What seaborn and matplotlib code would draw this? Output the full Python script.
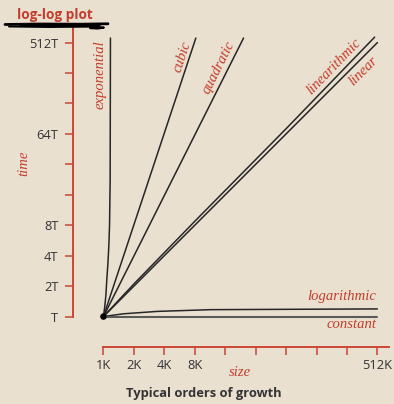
import numpy as np
import pandas as pd
import matplotlib
matplotlib.use("Agg")
import matplotlib.pyplot as plt
from matplotlib.lines import Line2D
import seaborn as sns

# problem size in thousands (K) and running time in units of T
exp_size = [1.0, 1.028, 1.057, 1.079, 1.110, 1.133, 1.149, 1.165, 1.173]
exp_time = [1.0, 1.23, 1.62, 2.3, 3.48, 5.28, 8.0, 22.6, 568.0]

cubic_size = [1.0, 8.2]
cubic_time = [1.0, 568.0]

quad_size = [1.0, 24.3]
quad_time = [1.0, 568.0]

nlogn_size = [1.0, 2.0, 8.0, 64.0, 481.0]
nlogn_time = [1.0, 2.1, 8.75, 72.0, 580.0]

linear_size = [1.0, 512.0]
linear_time = [1.0, 512.0]

log_size = [1.0, 1.58, 3.43, 11.5, 512.0]
log_time = [1.0, 1.065, 1.125, 1.17, 1.19]

const_size = [1.0, 512.0]
const_time = [1.0, 1.0]

x_ticks = [1, 2, 4, 8, 16, 32, 64, 128, 256, 512]
x_tick_labels = ["1K", "2K", "4K", "8K", "", "", "", "", "", "512K"]
y_ticks = [1, 2, 4, 8, 16, 32, 64, 128, 256, 512]
y_tick_labels = ["T", "2T", "4T", "8T", "", "", "64T", "", "", "512T"]

BG = "#e9e0d0"
RED = "#c43c2c"
AXRED = "#cc4634"
INK = "#262626"
TXT = "#333333"

sns.set_theme(style="white")
plt.rcParams["font.family"] = ["Open Sans", "DejaVu Sans"]

fig = plt.figure(figsize=(3.94, 4.04), dpi=100, facecolor=BG)
ax = fig.add_axes([0.1853, 0.1411, 0.8015, 0.7911])
ax.set_facecolor(BG)

series = [
    (exp_size, exp_time, INK, 1.1),
    (cubic_size, cubic_time, INK, 1.1),
    (quad_size, quad_time, INK, 1.1),
    (nlogn_size, nlogn_time, INK, 1.1),
    (linear_size, linear_time, INK, 1.1),
    (log_size, log_time, INK, 1.1),
    (const_size, const_time, "#5a5a5a", 1.5),
]
for xs, ys, col, lw in series:
    df = pd.DataFrame({"size": xs, "time": ys})
    sns.lineplot(data=df, x="size", y="time", ax=ax, color=col, linewidth=lw,
                 sort=False, estimator=None)

sns.scatterplot(x=[1.0], y=[1.0], ax=ax, color="black", s=22, edgecolor="none", zorder=5)

ax.set_xscale("log", base=2)
ax.set_yscale("log", base=2)
ax.set_xlim(0.5, 2 ** 9.375)
ax.set_ylim(0.5, 2 ** 9.5)
ax.set_xticks(x_ticks)
ax.set_xticklabels(x_tick_labels)
ax.set_yticks(y_ticks)
ax.set_yticklabels(y_tick_labels)
ax.minorticks_off()
ax.set_xlabel("")
ax.set_ylabel("")

for side in ("top", "right"):
    ax.spines[side].set_visible(False)
for side in ("left", "bottom"):
    ax.spines[side].set_color(AXRED)
    ax.spines[side].set_linewidth(1.4)
ax.spines["left"].set_bounds(1, 2 ** 9.5)
ax.spines["bottom"].set_bounds(1, 2 ** 9.375)
ax.tick_params(axis="both", which="major", direction="out", length=5.5, width=1.1,
               color=AXRED, labelcolor=TXT, labelsize=9.3, pad=3,
               bottom=True, left=True)
ax.tick_params(axis="y", pad=5)

serif = dict(family=["Liberation Serif", "DejaVu Serif"], style="italic", color=RED,
             fontsize=10.5)

def p2(v):
    return 2 ** v

ax.text(p2(-0.1), p2(7.95), "exponential", rotation=90, ha="center", va="center", **serif)
ax.text(p2(2.6), p2(8.54), "cubic", rotation=71.6, ha="center", va="center", **serif)
ax.text(p2(3.78), p2(8.18), "quadratic", rotation=63.4, ha="center", va="center", **serif)
ax.text(p2(7.56), p2(8.21), "linearithmic", rotation=46, ha="center", va="center", **serif)
ax.text(p2(8.54), p2(8.05), "linear", rotation=45, ha="center", va="center", **serif)
ax.text(p2(8.97), p2(0.66), "logarithmic", ha="right", va="center", **serif)
ax.text(p2(8.97), p2(-0.26), "constant", ha="right", va="center", **serif)

fig.text(240 / 394, 1 - 373 / 404, "size", ha="center", va="center", **serif)
fig.text(24 / 394, 1 - 163 / 404, "time", rotation=90, ha="center", va="center", **serif)

fig.text(55 / 394, 1 - 15 / 404, "log-log plot", ha="center", va="center",
         color=RED, fontsize=9.8, fontweight="bold")
fig.text(204 / 394, 1 - 394 / 404, "Typical orders of growth", ha="center", va="center",
         color=TXT, fontsize=9.3, fontweight="bold")

# hand-drawn underline beneath the title
W, H = 394.0, 404.0
strokes = [
    ([5, 40, 80, 108], [24.5, 24.0, 24.2, 23.8], 2.0),
    ([9, 50, 96, 104, 98, 90], [26.5, 27.0, 26.6, 27.6, 28.6, 28.2], 1.4),
    ([20, 60, 100], [25.3, 25.6, 25.2], 1.2),
]
for xs, ys, lw in strokes:
    fig.add_artist(Line2D([x / W for x in xs], [1 - y / H for y in ys],
                          transform=fig.transFigure, color="black", linewidth=lw,
                          solid_capstyle="round"))

fig.savefig("out.png", dpi=100, facecolor=BG)
